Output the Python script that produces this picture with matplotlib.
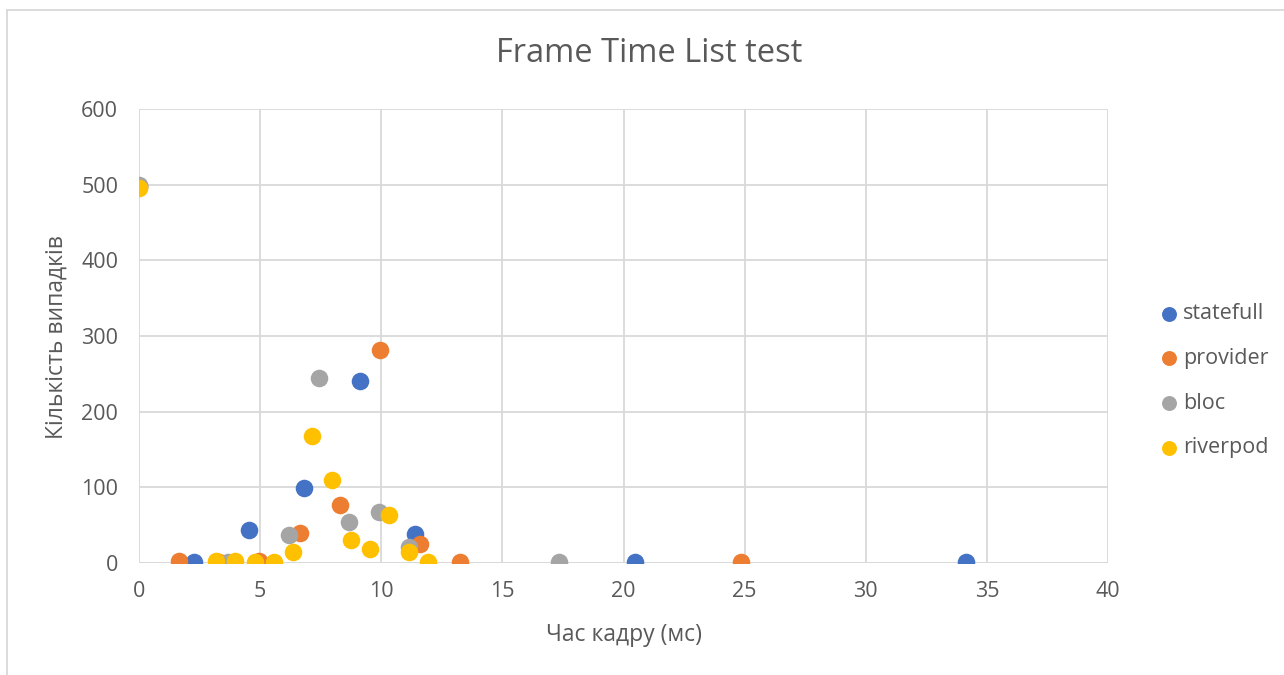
import matplotlib
matplotlib.use('Agg')
from matplotlib import pyplot as plt
from matplotlib.lines import Line2D

# frame time (ms) / number of cases, per state management approach
statefull_x = [0, 2.28, 4.55, 6.83, 9.11, 11.39, 20.49, 34.15]
statefull_y = [498, 1, 44, 99, 240, 38, 1, 1]

provider_x = [0, 1.66, 3.31, 4.97, 6.63, 8.28, 9.94, 11.60, 13.25, 24.85]
provider_y = [497, 2, 1, 2, 39, 77, 281, 25, 1, 1]

bloc_x = [0, 3.68, 6.19, 7.43, 8.67, 9.91, 11.15, 17.34]
bloc_y = [500, 1, 37, 244, 54, 67, 21, 1]

riverpod_x = [0, 3.18, 3.97, 4.77, 5.56, 6.36, 7.15, 7.95, 8.74, 9.54, 10.33, 11.13, 11.92]
riverpod_y = [495, 3, 2, 1, 1, 14, 168, 110, 31, 19, 64, 14, 1]

series = [
    ('statefull', statefull_x, statefull_y, '#4472C4'),
    ('provider', provider_x, provider_y, '#ED7D31'),
    ('bloc', bloc_x, bloc_y, '#A5A5A5'),
    ('riverpod', riverpod_x, riverpod_y, '#FFC000'),
]

plt.rcParams['font.family'] = ['Open Sans', 'DejaVu Sans']
txt = '#595959'

fig = plt.figure(figsize=(12.84, 6.75), dpi=100)
ax = fig.add_axes([139 / 1284, 112 / 675, 969 / 1284, 454 / 675])

for name, xs, ys, col in series:
    ax.scatter(xs, ys, s=160, color=col, label=name, zorder=3, linewidths=0)

ax.set_xlim(0, 40)
ax.set_ylim(0, 600)
ax.set_xticks(range(0, 41, 5))
ax.set_yticks(range(0, 601, 100))
ax.grid(True, color='#D9D9D9', linewidth=1.3)
ax.set_axisbelow(True)
for s in ax.spines.values():
    s.set_visible(False)
ax.axhline(0, color='#D9D9D9', linewidth=1.3, zorder=1)
ax.tick_params(length=0, labelsize=15.5, colors=txt)
ax.tick_params(axis='y', pad=15)
ax.tick_params(axis='x', pad=13)

fig.text(624 / 1284, 1 - 635 / 675, 'Час кадру (мс)', fontsize=16.5,
         color=txt, ha='center', va='center')
fig.text(57 / 1284, 1 - 337 / 675, 'Кількість випадків', fontsize=16.5,
         color=txt, ha='center', va='center', rotation=90)
fig.text(649 / 1284, 1 - 54 / 675, 'Frame Time List test', fontsize=23.5,
         color=txt, ha='center', va='center')

ax.legend(loc='center left', bbox_to_anchor=(1.0516, 0.401), frameon=False,
          fontsize=15.5, labelcolor=txt, handlelength=1.0, handletextpad=0.15,
          labelspacing=1.1, borderpad=0, borderaxespad=0, markerscale=0.85)

# chart border (only left and top edges are visible in the crop)
fig.add_artist(Line2D([7 / 1284, 7 / 1284], [0, 1 - 10 / 675],
                      transform=fig.transFigure, color='#D9D9D9', linewidth=1.3))
fig.add_artist(Line2D([7 / 1284, 1], [1 - 10 / 675, 1 - 10 / 675],
                      transform=fig.transFigure, color='#D9D9D9', linewidth=1.3))

fig.savefig('out.png', dpi=100, facecolor='white')
